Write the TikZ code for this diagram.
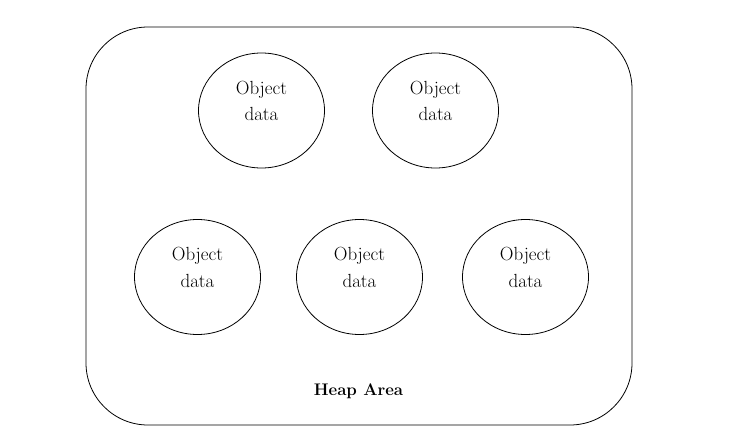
\documentclass[tikz,border=0pt]{standalone}
\usepackage{fontspec}
\usetikzlibrary{shapes.geometric}
\begin{document}
\begin{tikzpicture}[x=1pt,y=-1pt,
  objshape/.style={ellipse,draw,line width=0.8pt,minimum width=126pt,minimum height=115pt,inner sep=0pt},
  objtext/.style={align=center,font=\fontsize{19}{26.5}\selectfont,inner sep=0pt},
  heaplabel/.style={font=\fontsize{16.8}{20}\selectfont\bfseries,inner sep=0pt}]
\useasboundingbox (0,0) rectangle (735,447);
\node[draw,line width=0.8pt,rounded corners=62pt,minimum width=546pt,minimum height=398pt,inner sep=0pt] (heap) at (359,226) {};
\node[objshape] (o1) at (261.5,110.5) {};
\node[objshape] (o2) at (435.5,110.5) {};
\node[objshape] (o3) at (197.5,277) {};
\node[objshape] (o4) at (359.5,277) {};
\node[objshape] (o5) at (525.5,277) {};
\foreach \n in {o1,o2,o3,o4,o5}{
  \node[objtext] (t\n) at ([yshift=9.5pt]\n.center) {Object\\data};
}
\node[heaplabel,anchor=base] (hl) at (358.5,395) {Heap Area};
\end{tikzpicture}
\end{document}
